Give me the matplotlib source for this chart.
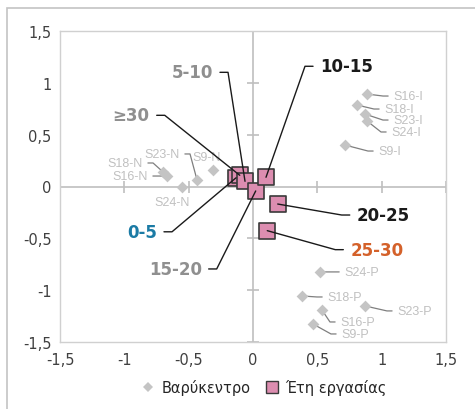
#!/usr/bin/env python3

import matplotlib
matplotlib.use('Agg')
import matplotlib.pyplot as plt
from matplotlib.lines import Line2D
from matplotlib.patches import Rectangle

# Centroids (Βαρύκεντρο)
point_names = ['S16-I', 'S18-I', 'S23-I', 'S24-I', 'S9-I',
               'S18-N', 'S16-N', 'S24-N', 'S23-N', 'S9-N',
               'S24-P', 'S18-P', 'S23-P', 'S16-P', 'S9-P']
point_x = [0.886, 0.808, 0.870, 0.886, 0.715,
           -0.699, -0.668, -0.552, -0.435, -0.311,
           0.521, 0.381, 0.870, 0.536, 0.466]
point_y = [0.892, 0.786, 0.699, 0.632, 0.400,
           0.140, 0.101, -0.005, 0.063, 0.159,
           -0.824, -1.056, -1.152, -1.191, -1.326]

# Years of work (Έτη εργασίας)
year_names = ['0-5', '≥30', '5-10', '15-20', '10-15', '20-25', '25-30']
year_x = [-0.132, -0.103, -0.062, 0.021, 0.101, 0.192, 0.111]
year_y = [0.084, 0.108, 0.050, -0.043, 0.089, -0.169, -0.426]

tick_values = [-1.5, -1, -0.5, 0, 0.5, 1, 1.5]
tick_labels = ['-1,5', '-1', '-0,5', '0', '0,5', '1', '1,5']

# label layout, in pixels relative to the marker: (dx, dy up, side)
point_layout = {
    'S16-I': (26, -2, 'l'), 'S18-I': (27, -4, 'l'), 'S23-I': (28, -6, 'l'),
    'S24-I': (24, -11, 'l'), 'S9-I': (33, -6, 'l'),
    'S18-N': (-20, 9, 'r'), 'S16-N': (-19, 0, 'r'), 'S23-N': (-17, 26, 'r'),
    'S9-N': (-6, 13, 'c'), 'S24-N': (-10, -15, 'c'),
    'S24-P': (24, 0, 'l'), 'S18-P': (25, -1, 'l'), 'S23-P': (32, -5, 'l'),
    'S16-P': (18, -12, 'l'), 'S9-P': (28, -10, 'l'),
}
year_layout = {
    '5-10': (-32, 109, 'r', '#8f8f8f'),
    '≥30': (-90, 60, 'r', '#8f8f8f'),
    '10-15': (54, 111, 'l', '#1a1a1a'),
    '0-5': (-79, -54, 'r', '#1b7ba5'),
    '15-20': (-54, -78, 'r', '#8f8f8f'),
    '20-25': (79, -11, 'l', '#1a1a1a'),
    '25-30': (83, -19, 'l', '#d4612a'),
}

diamond_gray = '#c4c4c4'
pink = '#dc8db0'
edge_dark = '#3a3a3a'
axis_gray = '#bfbfbf'
PX = 0.72  # points per pixel at dpi 100

fig = plt.figure(figsize=(4.75, 4.1), dpi=100)
ax = fig.add_axes([60 / 475, 1 - 343 / 410, 386 / 475, 311 / 410])

ax.set_xlim(-1.5, 1.5)
ax.set_ylim(-1.5, 1.5)
ax.set_xticks(tick_values)
ax.set_xticklabels(tick_labels)
ax.set_yticks(tick_values)
ax.set_yticklabels(tick_labels)
ax.tick_params(length=0, labelsize=10.5, labelcolor='#404040')
ax.tick_params(axis='x', pad=7)
ax.tick_params(axis='y', pad=6)
for s in ax.spines.values():
    s.set_color('#d0d0d0')
    s.set_linewidth(1)

# axes crossing at zero, with cross tick marks
ax.axhline(0, color=axis_gray, lw=1.2, zorder=1)
ax.axvline(0, color=axis_gray, lw=1.2, zorder=1)
nz = [t for t in tick_values if t != 0]
ax.plot(nz, [0] * len(nz), ls='none', marker='|', ms=8, mew=1.2,
        color=axis_gray, zorder=1)
ax.plot([0] * len(nz), nz, ls='none', marker='_', ms=8, mew=1.2,
        color=axis_gray, zorder=1)


def leader(side, color, lw, arm, shrink):
    # short horizontal stub next to the text, then straight to the marker
    ang = 180 if side == 'l' else 0
    return dict(arrowstyle='-', color=color, lw=lw, shrinkA=shrink, shrinkB=0,
                relpos=(0 if side == 'l' else 1, 0.5),
                connectionstyle=f'arc,angleA={ang},armA={arm},rad=0')


# centroids
ax.scatter(point_x, point_y, marker='D', s=36, color=diamond_gray,
           linewidths=0, zorder=4)
for name, x, y in zip(point_names, point_x, point_y):
    dx, dy, side = point_layout[name]
    kw = dict(textcoords='offset points', fontsize=9, color='#c0c0c0',
              family='Liberation Sans', va='center', zorder=3)
    if side == 'c':
        ax.annotate(name, (x, y), xytext=(dx * PX, dy * PX), ha='center', **kw)
        continue
    ha = 'left' if side == 'l' else 'right'
    ax.annotate(name, (x, y), xytext=(dx * PX, dy * PX), ha=ha,
                arrowprops=leader(side, '#7f7f7f', 0.9, 10, 1.5), **kw)

# years of work
ax.scatter(year_x, year_y, marker='s', s=11 ** 2, color=pink,
           edgecolors=edge_dark, linewidths=1.2, zorder=2)
for name, x, y in zip(year_names, year_x, year_y):
    dx, dy, side, col = year_layout[name]
    ha = 'left' if side == 'l' else 'right'
    ax.annotate(name, (x, y), xytext=(dx * PX, dy * PX),
                textcoords='offset points', ha=ha, va='center',
                fontsize=12, fontweight='bold', color=col, zorder=5,
                arrowprops=leader(side, '#1a1a1a', 1.0, 15, 3))

handles = [
    Line2D([], [], ls='none', marker='D', ms=5, color=diamond_gray, mew=0),
    Line2D([], [], ls='none', marker='s', ms=8, color=pink,
           markeredgecolor=edge_dark, mew=1.0),
]
fig.legend(handles, ['Βαρύκεντρο', 'Έτη εργασίας'], loc='center',
           bbox_to_anchor=(264 / 475, 1 - 388 / 410), ncol=2, frameon=False,
           fontsize=10.5, handlelength=1.0, handletextpad=0.4,
           columnspacing=1.0, labelcolor='#262626')

# outer chart border
fig.patches.append(Rectangle((7 / 475, -0.1), 1.2, 1.1 - 9 / 410,
                             transform=fig.transFigure, fill=False,
                             edgecolor='#c4c4c4', lw=1.2))

fig.savefig('out.png', dpi=100)
